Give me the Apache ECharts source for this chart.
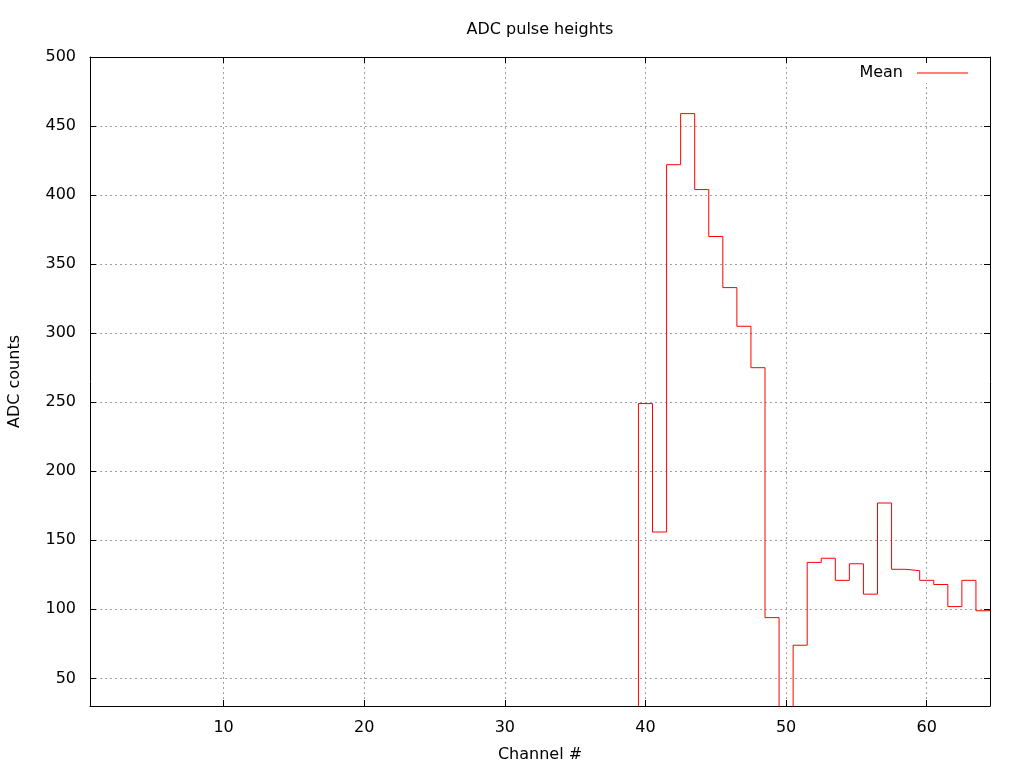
<!DOCTYPE html>
<html>
<head>
<meta charset="utf-8">
<script src="https://cdn.jsdelivr.net/npm/echarts@6/dist/echarts.min.js"></script>
<style>html,body{margin:0;padding:0;background:#fff}#c{width:1024px;height:768px}</style>
</head>
<body>
<div id="c"></div>
<script>
// Channel numbers 1..64
var channels = [];
for (var i = 1; i <= 64; i++) channels.push(i);
// ADC counts per channel (channels 1-39 and 50 are below the visible range)
var counts = [
  0,0,0,0,0,0,0,0,0,0,
  0,0,0,0,0,0,0,0,0,0,
  0,0,0,0,0,0,0,0,0,0,
  0,0,0,0,0,0,0,0,0,249,
  156,422,459,404,370,333,305,275,94,0,
  74,134,137,121,133,111,177,129,128,121,
  118,102,121,99
];
var seriesName = 'Mean';
var titleText = 'ADC pulse heights';
var xName = 'Channel #';
var yName = 'ADC counts';

// histogram steps: each bin spans channel +/- 0.5
var stepData = [];
channels.forEach(function (c, i) {
  stepData.push([c - 0.5, counts[i]]);
  stepData.push([c + 0.5, counts[i]]);
});

var FONT = 'DejaVu Sans';
var FS = 16;
var chart = echarts.init(document.getElementById('c'), null, {renderer: 'canvas'});
var axisCommon = {
  axisLine: {show: true, onZero: false, lineStyle: {color: '#000', width: 1}},
  axisTick: {show: true, inside: true, length: 6, lineStyle: {color: '#000'}}
};
chart.setOption({
  animation: false,
  backgroundColor: '#fff',
  textStyle: {fontFamily: FONT},
  title: {
    text: titleText, left: 540, textAlign: 'center', top: 22, padding: 0,
    textStyle: {fontFamily: FONT, fontSize: FS, fontWeight: 'normal', color: '#000'}
  },
  legend: {
    data: [{name: seriesName, icon: 'rect'}],
    right: 50, top: 63, padding: [2, 6],
    align: 'right', itemWidth: 51, itemHeight: 1,
    backgroundColor: '#fff',
    textStyle: {fontFamily: FONT, fontSize: FS, color: '#000', padding: [0, 9, 0, 0]}
  },
  grid: {left: 90, right: 34, top: 57, bottom: 62, containLabel: false, outerBoundsMode: 'none'},
  xAxis: [
    Object.assign({}, axisCommon, {
      type: 'value', min: 0.5, max: 64.5, splitNumber: 6, minInterval: 10, maxInterval: 10,
      position: 'bottom',
      name: xName, nameLocation: 'middle', nameGap: 41,
      nameTextStyle: {fontFamily: FONT, fontSize: FS, color: '#000'},
      axisLabel: {show: true, margin: 14, fontFamily: FONT, fontSize: FS, color: '#000',
        showMinLabel: false, showMaxLabel: false,
        formatter: function (v) { return (v % 10 === 0) ? String(v) : ''; }},
      splitLine: {show: true, lineStyle: {color: '#a0a0a0', width: 1, type: [2, 3]}}
    }),
    Object.assign({}, axisCommon, {
      type: 'value', min: 0.5, max: 64.5, splitNumber: 6, minInterval: 10, maxInterval: 10,
      position: 'top',
      axisLabel: {show: false},
      splitLine: {show: false}
    })
  ],
  yAxis: [
    Object.assign({}, axisCommon, {
      type: 'value', min: 30, max: 500, splitNumber: 9, minInterval: 50, maxInterval: 50,
      position: 'left',
      name: yName, nameLocation: 'middle', nameGap: 67,
      nameTextStyle: {fontFamily: FONT, fontSize: FS, color: '#000'},
      axisLabel: {show: true, margin: 14, fontFamily: FONT, fontSize: FS, color: '#000',
        showMinLabel: false,
        formatter: function (v) { return (v % 50 === 0) ? String(v) : ''; }},
      splitLine: {show: true, lineStyle: {color: '#a0a0a0', width: 1, type: [2, 3]}}
    }),
    Object.assign({}, axisCommon, {
      type: 'value', min: 30, max: 500, splitNumber: 9, minInterval: 50, maxInterval: 50,
      position: 'right',
      axisLabel: {show: false},
      splitLine: {show: false}
    })
  ],
  series: [{
    name: seriesName,
    type: 'line',
    xAxisIndex: 0, yAxisIndex: 0,
    data: stepData,
    symbol: 'none',
    showSymbol: false,
    clip: true,
    itemStyle: {color: '#ff0000'},
    lineStyle: {color: '#ff0000', width: 1},
    z: 3
  }]
});
</script>
</body>
</html>
